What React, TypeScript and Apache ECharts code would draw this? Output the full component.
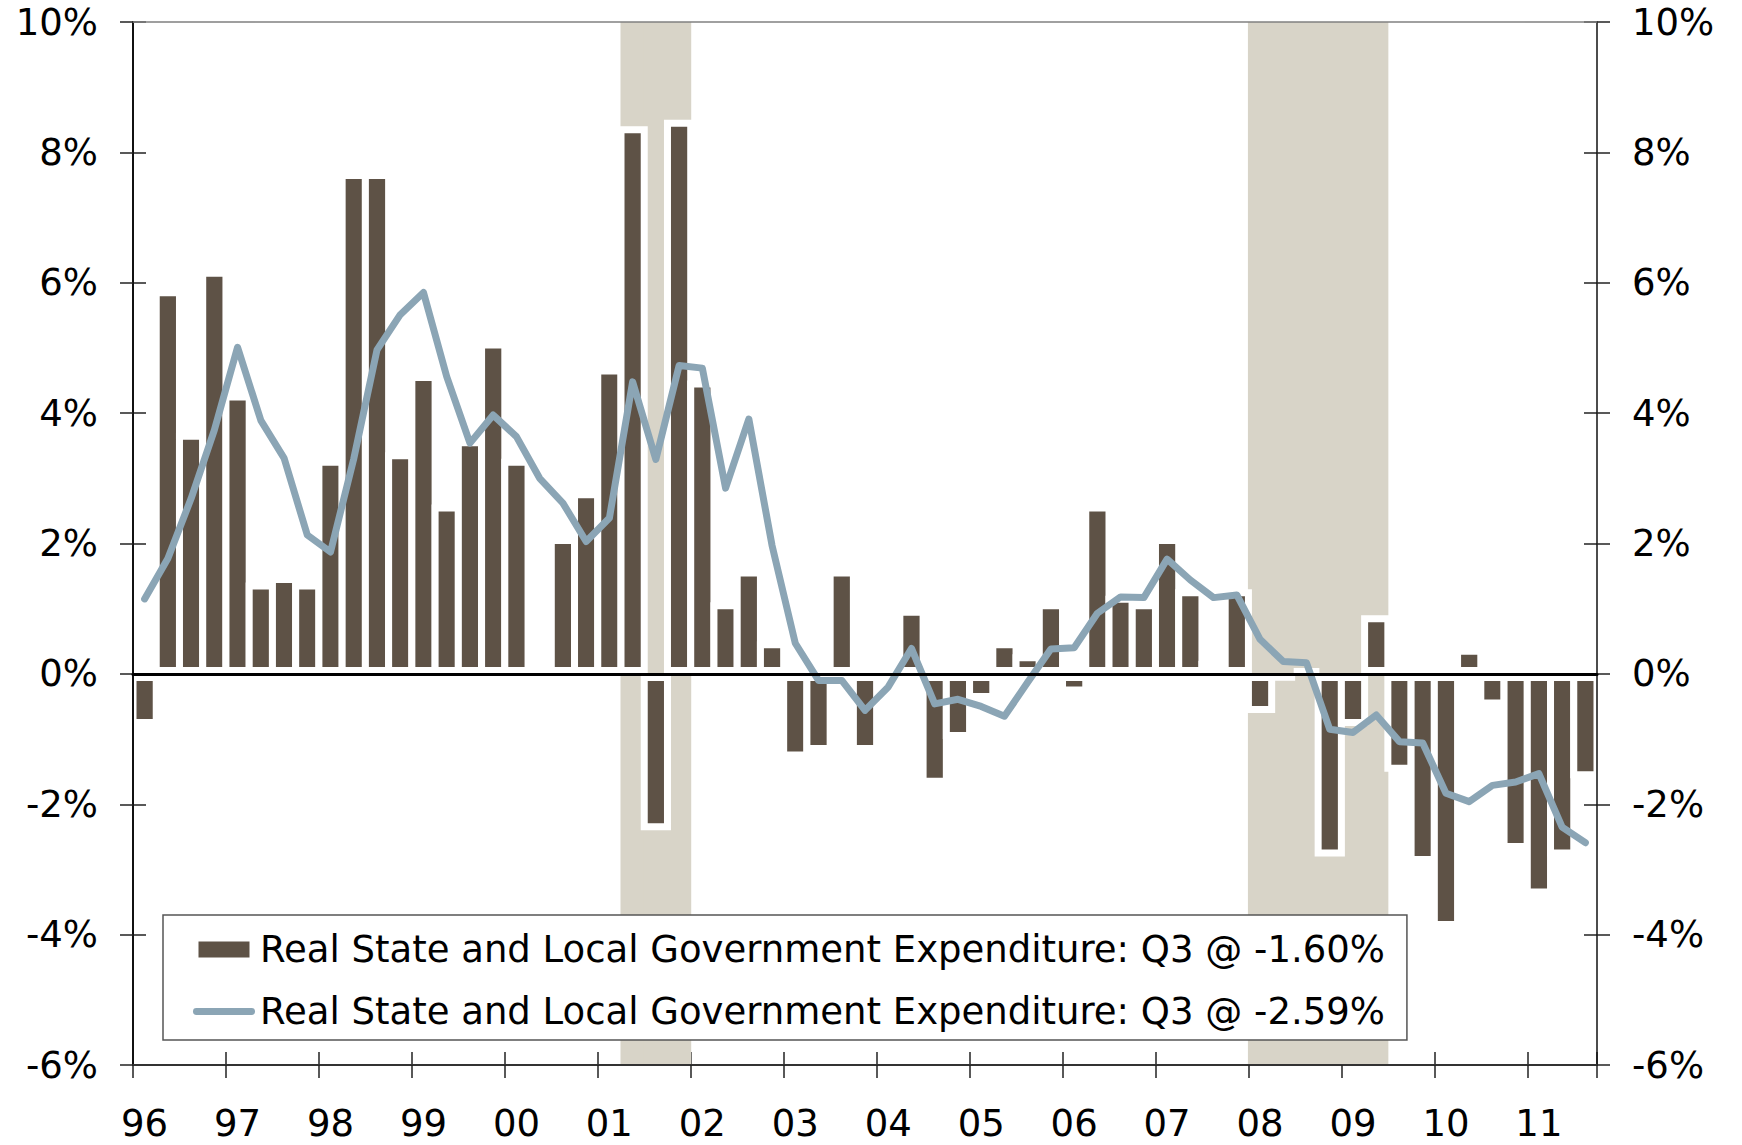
import React, { useEffect, useRef } from 'react';
import * as echarts from 'echarts';

// ---- Data ----
const years = ['96', '97', '98', '99', '00', '01', '02', '03', '04', '05', '06', '07', '08', '09', '10', '11'];
const quarters = ['Q1', 'Q2', 'Q3', 'Q4'];

// Quarterly % change (bars), 1996 Q1 .. 2011 Q3
const bars = [
  -0.8, 5.9, 3.7, 6.2, 4.3, 1.4, 1.5, 1.4,
  3.3, 7.7, 7.7, 3.4, 4.6, 2.6, 3.6, 5.1,
  3.3, 0.0, 2.1, 2.8, 4.7, 8.4, -2.4, 8.5,
  4.5, 1.1, 1.6, 0.5, -1.3, -1.2, 1.6, -1.2,
  0.0, 1.0, -1.7, -1.0, -0.4, 0.5, 0.3, 1.1,
  -0.3, 2.6, 1.2, 1.1, 2.1, 1.3, 0.2, 1.3,
  -0.6, -0.1, 0.07, -2.8, -0.8, 0.9, -1.5, -2.9,
  -3.9, 0.4, -0.5, -2.7, -3.4, -2.8, -1.6,
];

// Year-over-year % change (line), 1996 Q1 .. 2011 Q3
const yoy = [
  1.15, 1.77, 2.69, 3.74, 5.01, 3.89, 3.31, 2.13,
  1.87, 3.3, 4.97, 5.51, 5.85, 4.56, 3.54, 3.97,
  3.64, 3.0, 2.62, 2.03, 2.39, 4.48, 3.29, 4.73,
  4.69, 2.85, 3.91, 1.97, 0.47, -0.1, -0.1, -0.56,
  -0.2, 0.39, -0.46, -0.39, -0.5, -0.65, -0.13, 0.38,
  0.4, 0.93, 1.18, 1.17, 1.76, 1.44, 1.17, 1.21,
  0.53, 0.19, 0.17, -0.85, -0.9, -0.63, -1.04, -1.06,
  -1.83, -1.96, -1.71, -1.66, -1.53, -2.35, -2.59,
];

const recessionQuarters = ['01Q2', '01Q3', '01Q4', '08Q1', '08Q2', '08Q3', '08Q4', '09Q1', '09Q2'];

const Y_MIN = -6;
const Y_MAX = 10;
const Y_INTERVAL = 2;

const seriesTitle = 'Real State and Local Government Expenditure';
const lastQuarter = 'Q3';

// ---- Derived ----
const categories = years.flatMap((y) => quarters.map((q) => y + q)).slice(0, bars.length);
const recTop = categories.map((c) => (recessionQuarters.includes(c) ? Y_MAX : null));
const recBottom = categories.map((c) => (recessionQuarters.includes(c) ? Y_MIN : null));
const barName = `${seriesTitle}: ${lastQuarter} @ ${bars[bars.length - 1].toFixed(2)}%`;
const lineName = `${seriesTitle}: ${lastQuarter} @ ${yoy[yoy.length - 1].toFixed(2)}%`;

const FONT = 'DejaVu Sans';
const BAR_COLOR = '#5e5246';
const LINE_COLOR = '#8ba5b5';
const SHADE_COLOR = '#d8d4c8';

const W = 1742;
const H = 1145;
const GRID = { left: 133, right: 145, top: 22, bottom: 80 };
const BAND = (W - GRID.left - GRID.right) / bars.length;
const BORDER = 7;

export default function App() {
  const ref = useRef<HTMLDivElement>(null);

  useEffect(() => {
    document.body.style.margin = '0';
    if (!ref.current) return;
    const chart = echarts.init(ref.current, undefined, { renderer: 'svg' });

    const tickStyle = { color: '#222', width: 1.5 };

    const option: any = {
      animation: false,
      textStyle: { fontFamily: FONT },
      grid: [
        { ...GRID },
        { ...GRID },
      ],
      legend: {
        orient: 'vertical',
        left: 163,
        top: 915,
        itemWidth: 62,
        itemHeight: 16,
        itemGap: 25,
        padding: [16, 22, 10, 30],
        backgroundColor: '#fff',
        borderColor: '#555',
        borderWidth: 1.5,
        selectedMode: false,
        itemStyle: { borderWidth: 0 },
        textStyle: { fontSize: 37, color: '#000', fontFamily: FONT },
        data: [
          { name: barName, icon: 'path://M0,0h51v16h-51z', itemStyle: { color: BAR_COLOR, borderWidth: 0 } },
          {
            name: lineName,
            icon: 'path://M3.5,0h57a3.5,3.5,0,0,1,0,7h-57a3.5,3.5,0,0,1,0,-7z',
            itemStyle: { color: LINE_COLOR, borderWidth: 0 },
          },
        ],
      },
      xAxis: [
        {
          type: 'category',
          gridIndex: 0,
          position: 'bottom',
          data: categories,
          boundaryGap: true,
          axisLine: { onZero: false, lineStyle: { color: '#333', width: 2 } },
          axisTick: { show: true, interval: 3, length: 13, lineStyle: tickStyle },
          axisLabel: {
            interval: 3,
            formatter: (v: string) => v.slice(0, 2),
            fontSize: 37,
            color: '#000',
            margin: 40,
            fontFamily: FONT,
          },
          splitLine: { show: false },
          z: 5,
        },
        {
          type: 'category',
          gridIndex: 0,
          position: 'top',
          data: categories,
          axisLine: { onZero: false, lineStyle: { color: '#808080', width: 1.5 } },
          axisTick: { show: false },
          axisLabel: { show: false },
          splitLine: { show: false },
          z: 5,
        },
        {
          type: 'category',
          gridIndex: 0,
          position: 'bottom',
          data: categories,
          axisLine: { onZero: true, onZeroAxisIndex: 0, lineStyle: { color: '#000', width: 3 } },
          axisTick: { show: false },
          axisLabel: { show: false },
          splitLine: { show: false },
          z: 10,
        },
        {
          type: 'category',
          gridIndex: 1,
          position: 'bottom',
          data: categories,
          axisLine: { show: false, onZero: false },
          axisTick: { show: true, inside: true, interval: 3, length: 13, lineStyle: tickStyle },
          axisLabel: { show: false },
          splitLine: { show: false },
        },
      ],
      yAxis: [
        {
          type: 'value',
          gridIndex: 0,
          position: 'left',
          min: Y_MIN,
          max: Y_MAX,
          interval: Y_INTERVAL,
          axisLine: { show: true, lineStyle: { color: '#111', width: 2 } },
          axisTick: { show: true, length: 13, lineStyle: tickStyle },
          axisLabel: { formatter: '{value}%', fontSize: 37, color: '#000', margin: 35, fontFamily: FONT },
          splitLine: { show: false },
          z: 5,
        },
        {
          type: 'value',
          gridIndex: 0,
          position: 'right',
          min: Y_MIN,
          max: Y_MAX,
          interval: Y_INTERVAL,
          axisLine: { show: true, lineStyle: { color: '#111', width: 1.5 } },
          axisTick: { show: true, length: 13, lineStyle: tickStyle },
          axisLabel: { formatter: '{value}%', fontSize: 37, color: '#000', margin: 35, fontFamily: FONT },
          splitLine: { show: false },
          z: 5,
        },
        {
          type: 'value',
          gridIndex: 1,
          position: 'left',
          min: Y_MIN,
          max: Y_MAX,
          interval: Y_INTERVAL,
          axisLine: { show: false },
          axisTick: { show: true, inside: true, length: 13, lineStyle: tickStyle },
          axisLabel: { show: false },
          splitLine: { show: false },
        },
        {
          type: 'value',
          gridIndex: 1,
          position: 'right',
          min: Y_MIN,
          max: Y_MAX,
          interval: Y_INTERVAL,
          axisLine: { show: false },
          axisTick: { show: true, inside: true, length: 13, lineStyle: tickStyle },
          axisLabel: { show: false },
          splitLine: { show: false },
        },
      ],
      series: [
        {
          type: 'bar',
          name: 'recession-top',
          xAxisIndex: 3,
          yAxisIndex: 2,
          data: recTop,
          stack: 'rec',
          barWidth: BAND + 1,
          itemStyle: { color: SHADE_COLOR },
          silent: true,
          z: 1,
        },
        {
          type: 'bar',
          name: 'recession-bottom',
          xAxisIndex: 3,
          yAxisIndex: 2,
          data: recBottom,
          stack: 'rec',
          barWidth: BAND + 1,
          itemStyle: { color: SHADE_COLOR },
          silent: true,
          z: 1,
        },
        {
          type: 'bar',
          name: barName,
          xAxisIndex: 0,
          yAxisIndex: 0,
          data: bars,
          barWidth: BAND + BORDER,
          itemStyle: { color: BAR_COLOR, borderColor: '#fff', borderWidth: BORDER },
          z: 2,
        },
        {
          type: 'line',
          name: lineName,
          xAxisIndex: 0,
          yAxisIndex: 0,
          data: yoy,
          symbol: 'none',
          showSymbol: false,
          lineStyle: { color: LINE_COLOR, width: 7, cap: 'round', join: 'round' },
          itemStyle: { color: LINE_COLOR },
          z: 3,
        },
      ],
    };

    chart.setOption(option);
    return () => {
      chart.dispose();
    };
  }, []);

  return (
    <div
      ref={ref}
      style={{ position: 'absolute', left: 0, top: 0, width: W, height: H, background: '#fff' }}
    />
  );
}
